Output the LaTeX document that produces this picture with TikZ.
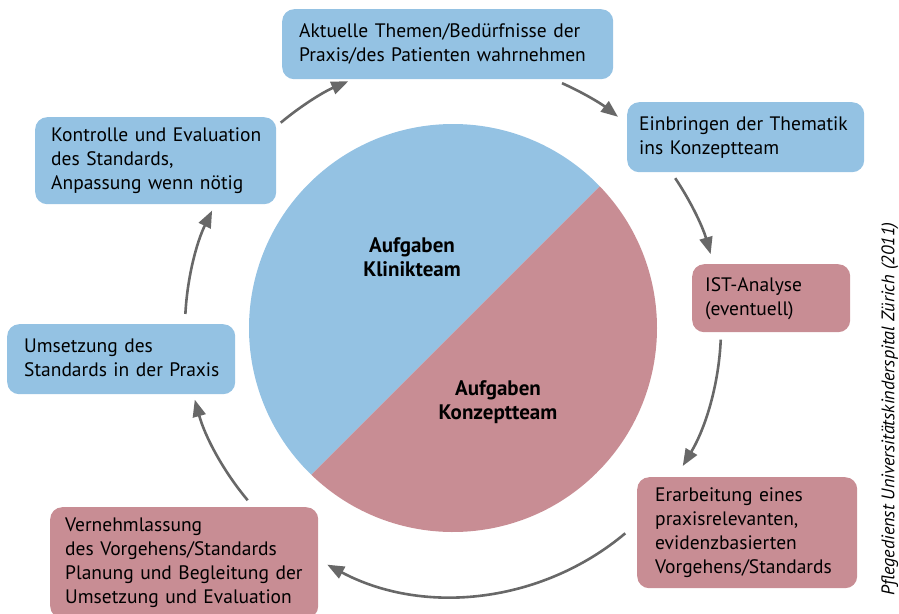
\documentclass[tikz,border=0pt]{standalone}
\usepackage{fontspec}
\setmainfont{PT Sans}
\usetikzlibrary{arrows.meta}

\definecolor{klinikblue}{RGB}{148,194,227}
\definecolor{konzeptred}{RGB}{200,141,148}
\definecolor{flowgray}{RGB}{104,104,104}

\begin{document}
\begin{tikzpicture}[x=1pt,y=1pt,
    flow/.style={draw=flowgray,line width=2.6pt,-{Triangle[length=17pt,width=13pt]}},
    task/.style={rounded corners=12pt,inner xsep=0pt,inner ysep=0pt,anchor=north west,align=left,font=\fontsize{19.5}{24}\selectfont}]
     \useasboundingbox (0,0) rectangle (899,-613);

     \def\rpie{204}
     \def\rflow{268}
     \newcommand\taskbox[8]{%{name}{x}{y}{w}{h}{pad}{fill}{text}
     \pgfmathsetmacro\boxtw{#4-2*#6}
     \node[task,fill=#7,minimum width=#4,minimum height=#5,text width=\boxtw pt] (#1) at (#2,-#3) {\begin{tabular}{@{}l@{}}#8\end{tabular}};
     }

     % pie
     \coordinate (c) at (453,-328);
     \fill[klinikblue] ([shift={(44:\rpie)}]c) arc[start angle=44,end angle=226,radius=\rpie] -- cycle;
     \fill[konzeptred] ([shift={(226:\rpie)}]c) arc[start angle=226,end angle=404,radius=\rpie] -- cycle;
     \node[font=\bfseries\fontsize{21}{24}\selectfont,align=center] (klinik) at (412,-257) {Aufgaben\\Klinikteam};
     \node[font=\bfseries\fontsize{21}{24}\selectfont,align=center] (konzept) at (498,-402) {Aufgaben\\Konzeptteam};

     \taskbox{wahrnehmen}{282}{9}{331}{70}{17}{klinikblue}{Aktuelle Themen/Bedürfnisse der\\Praxis/des Patienten wahrnehmen}
     \taskbox{einbringen}{627}{102}{237}{70}{12}{klinikblue}{Einbringen der Thematik\\ins Konzeptteam}
     \taskbox{analyse}{692}{264}{158}{68}{13}{konzeptred}{IST-Analyse\\(eventuell)}
     \taskbox{erarbeitung}{637}{477}{220}{111}{18}{konzeptred}{Erarbeitung eines\\praxisrelevanten,\\evidenzbasierten\\Vorgehens/Standards}
     \taskbox{vernehmlassung}{50}{507}{268}{111}{15}{konzeptred}{Vernehmlassung\\des Vorgehens/Standards\\Planung und Begleitung der\\Umsetzung und Evaluation}
     \taskbox{umsetzung}{7}{324}{228}{70}{17}{klinikblue}{Umsetzung des\\Standards in der Praxis}
     \taskbox{kontrolle}{35}{117}{241}{87}{16}{klinikblue}{Kontrolle und Evaluation\\des Standards,\\Anpassung wenn nötig}

     % cycle
     \draw[flow] ([shift={(130:\rflow)}]c) arc[start angle=130,end angle=113,radius=\rflow];
     \draw[flow] ([shift={(66:\rflow)}]c) arc[start angle=66,end angle=52,radius=\rflow];
     \draw[flow] ([shift={(34:\rflow)}]c) arc[start angle=34,end angle=16,radius=\rflow];
     \draw[flow] ([shift={(-2.5:\rflow)}]c) arc[start angle=-2.5,end angle=-31,radius=\rflow];
     \draw[flow] ([shift={(-50:\rflow)}]c) arc[start angle=-50,end angle=-118,radius=\rflow];
     \draw[flow] ([shift={(220:\rflow)}]c) arc[start angle=220,end angle=195.5,radius=\rflow];
     \draw[flow] ([shift={(177:\rflow)}]c) arc[start angle=177,end angle=154,radius=\rflow];

     \node[rotate=90,font=\itshape\fontsize{18.2}{20}\selectfont] (quelle) at (890,-409) {Pflegedienst Universitätskinderspital Zürich (2011)};
\end{tikzpicture}
\end{document}
